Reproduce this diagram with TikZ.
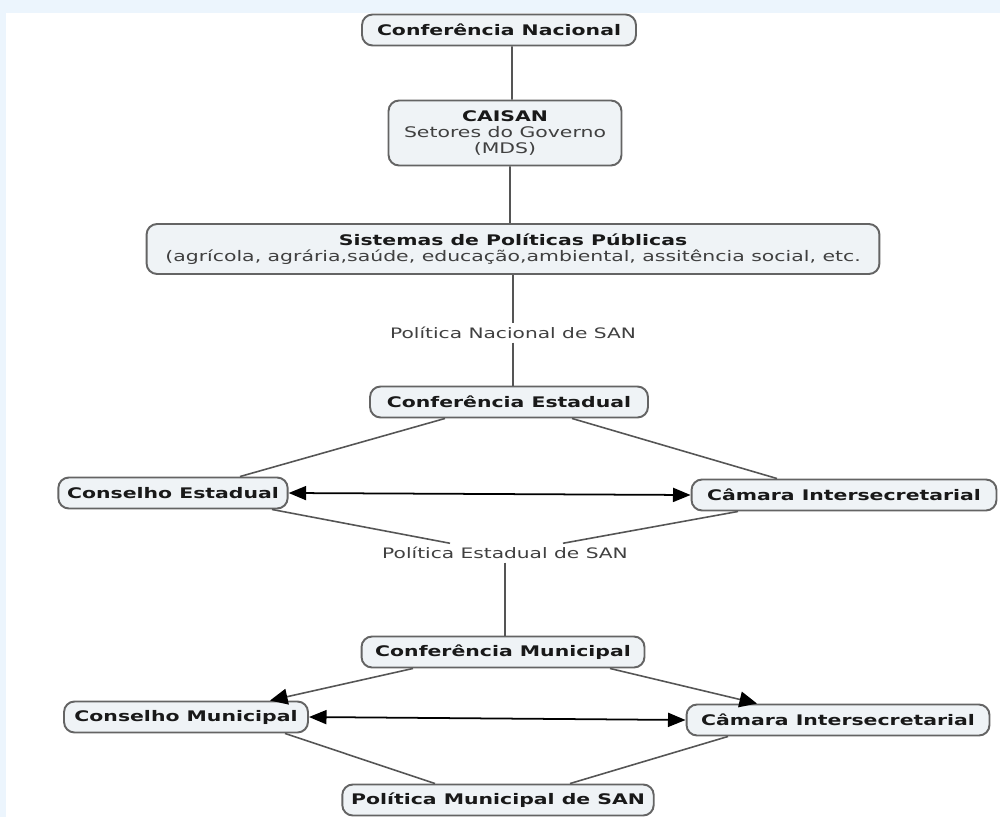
\documentclass[tikz,border=0pt]{standalone}
\usepackage{fontspec}
\setmainfont{DejaVu Sans}[FakeStretch=1.4]
\usetikzlibrary{arrows.meta}
\definecolor{caixa}{RGB}{239,243,246}
\definecolor{borda}{RGB}{100,100,100}
\definecolor{linha}{RGB}{85,85,85}
\definecolor{fundo}{RGB}{236,245,253}
\begin{document}
\begin{tikzpicture}[x=0.02cm,y=-0.02cm,
  conceito/.style={draw=borda, line width=1.1pt, fill=caixa, rounded corners=6pt,
    minimum height=0.62cm, inner xsep=5pt, align=center,
    font=\bfseries\fontsize{8.3}{9.1}\selectfont, text=black!90},
  rotulo/.style={font=\fontsize{8.2}{9.1}\selectfont, text=black!75, inner sep=2pt},
  liga/.style={linha, line width=0.9pt},
  seta/.style={black, line width=1pt, {Triangle[length=10pt,width=8pt]}-{Triangle[length=10pt,width=8pt]}},
  desce/.style={linha, line width=0.9pt, -{Triangle[length=10pt,width=9pt,color=black]}}]
% fundo
\fill[fundo] (0,0) rectangle (1000,817);
\fill[white] (6,13) rectangle (1000,817);
% nivel nacional
\node[conceito, minimum width=5.48cm] (cn) at (499,30) {Conferência Nacional};
\node[conceito, minimum width=4.66cm, minimum height=1.3cm] (caisan) at (505,133)
  {CAISAN\\{\mdseries\color{black!75}Setores do Governo}\\{\mdseries\color{black!75}(MDS)}};
\node[conceito, minimum width=14.66cm, minimum height=1cm] (sis) at (513,249)
  {Sistemas de Políticas Públicas\\{\mdseries\color{black!75}(agrícola, agrária,saúde, educação,ambiental, assitência social, etc.}};
\node[rotulo] (pn) at (513,333) {Política Nacional de SAN};
% nivel estadual
\node[conceito, minimum width=5.56cm] (ce) at (509,402) {Conferência Estadual};
\node[conceito, minimum width=4.46cm] (cse) at (173,493) {Conselho Estadual};
\node[conceito, minimum width=6.1cm] (cie) at (844,495) {Câmara Intersecretarial};
\node[rotulo] (pe) at (505,553) {Política Estadual de SAN};
% nivel municipal
\node[conceito, minimum width=5.66cm] (cm) at (503,652) {Conferência Municipal};
\node[conceito, minimum width=4.88cm] (csm) at (186,717) {Conselho Municipal};
\node[conceito, minimum width=6.06cm] (cim) at (838,720) {Câmara Intersecretarial};
\node[conceito, minimum width=5.94cm] (pm) at (498,800) {Política Municipal de SAN};
% ligacoes
\draw[liga] ([xshift=0.26cm]cn.south) -- ([xshift=0.14cm]caisan.north);
\draw[liga] ([xshift=0.1cm]caisan.south) -- ([xshift=-0.06cm]sis.north);
\draw[liga] (sis.south -| pn) -- (pn);
\draw[liga] (pn) -- (ce.north -| pn);
\draw[liga] ([xshift=-1.28cm]ce.south) -- ([xshift=1.34cm]cse.north);
\draw[liga] ([xshift=1.26cm]ce.south) -- ([xshift=-1.34cm]cie.north);
\draw[seta] (cse.east) -- (cie.west);
\draw[liga] ([xshift=1.98cm]cse.south) -- ([xshift=-1.1cm]pe.north);
\draw[liga] ([xshift=-2.12cm]cie.south) -- ([xshift=1.16cm]pe.north);
\draw[liga] (pe) -- (cm.north -| pe);
\draw[desce] ([xshift=-1.8cm]cm.south) -- ([xshift=1.68cm]csm.north);
\draw[desce] ([xshift=2.14cm]cm.south) -- ([xshift=-1.62cm]cim.north);
\draw[seta] (csm.east) -- (cim.west);
\draw[liga] ([xshift=1.98cm]csm.south) -- ([xshift=-1.26cm]pm.north);
\draw[liga] ([xshift=-2.2cm]cim.south) -- ([xshift=1.44cm]pm.north);
\end{tikzpicture}
\end{document}
